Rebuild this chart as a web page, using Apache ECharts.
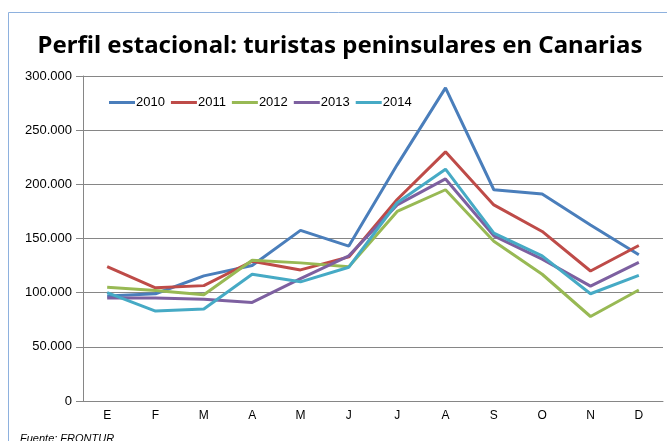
<!DOCTYPE html>
<html><head><meta charset="utf-8">
<script src="https://cdn.jsdelivr.net/npm/echarts@6/dist/echarts.min.js"></script>
<style>html,body{margin:0;padding:0;background:#fff}#c{width:667px;height:441px}</style>
</head><body><div id="c"></div>
<script>
const months = ['E','F','M','A','M','J','J','A','S','O','N','D'];
const years = ['2010','2011','2012','2013','2014'];
const s2010 = [97000, 99000, 115500, 125000, 157500, 143000, 218000, 289000, 195000, 191000, 162500, 135000];
const s2011 = [124000, 104500, 106500, 129000, 121000, 133000, 186000, 230000, 181000, 156500, 120000, 143500];
const s2012 = [105000, 102000, 98000, 130000, 127500, 124000, 175000, 195000, 147500, 117000, 78000, 102500];
const s2013 = [95000, 95000, 94000, 91000, 113000, 134000, 181000, 205000, 152500, 131000, 106000, 128000];
const s2014 = [100000, 83000, 85000, 117000, 110000, 123500, 183000, 214000, 155000, 134000, 99000, 116000];
const colors = ['#4A7EBB', '#BE4B48', '#98B954', '#7D60A0', '#46AAC5'];
const yTicks = [0, 50000, 100000, 150000, 200000, 250000, 300000];

const seriesData = [s2010, s2011, s2012, s2013, s2014];
const chart = echarts.init(document.getElementById('c'), null, {renderer: 'canvas'});
const fmt = v => v === 0 ? '0' : v.toLocaleString('de-DE');
chart.setOption({
  animation: false,
  textStyle: {fontFamily: 'Liberation Sans'},
  graphic: [
    {type: 'rect', shape: {x: 8.5, y: 12.5, width: 700, height: 500}, style: {fill: 'none', stroke: '#8EB1DE', lineWidth: 1}, z: -1},
    {type: 'text', x: 340, y: 46, style: {text: 'Perfil estacional: turistas peninsulares en Canarias', font: 'bold 24px "Noto Sans"', fill: '#000', align: 'center', verticalAlign: 'middle'}},
    {type: 'text', x: 20, y: 439, style: {text: 'Fuente: FRONTUR', font: 'italic 11px "Liberation Sans"', fill: '#000', align: 'left', verticalAlign: 'middle'}}
  ],
  legend: {
    left: 109, top: 96, padding: 0,
    icon: 'rect', itemWidth: 26, itemHeight: 3, itemGap: 6,
    textStyle: {fontSize: 13, color: '#000', fontFamily: 'Liberation Sans', padding: [0, 0, 0, -4]},
    data: years
  },
  grid: {left: 83, right: 4, top: 76, bottom: 40, containLabel: false},
  xAxis: {
    type: 'category', data: months, boundaryGap: true,
    axisLine: {lineStyle: {color: '#868686', width: 1}},
    axisTick: {show: false},
    axisLabel: {color: '#000', fontSize: 12, margin: 9}
  },
  yAxis: {
    type: 'value', min: yTicks[0], max: yTicks[yTicks.length - 1], interval: yTicks[1] - yTicks[0],
    axisLine: {show: true, lineStyle: {color: '#868686'}},
    axisTick: {show: true, length: 7, inside: false, lineStyle: {color: '#868686'}},
    splitLine: {lineStyle: {color: '#868686', width: 1}},
    axisLabel: {color: '#000', fontSize: 13, margin: 11, formatter: fmt}
  },
  series: years.map((y, i) => ({
    name: y, type: 'line', data: seriesData[i], showSymbol: false, symbol: 'none',
    lineStyle: {color: colors[i], width: 3}, itemStyle: {color: colors[i]}
  }))
});
</script></body></html>
